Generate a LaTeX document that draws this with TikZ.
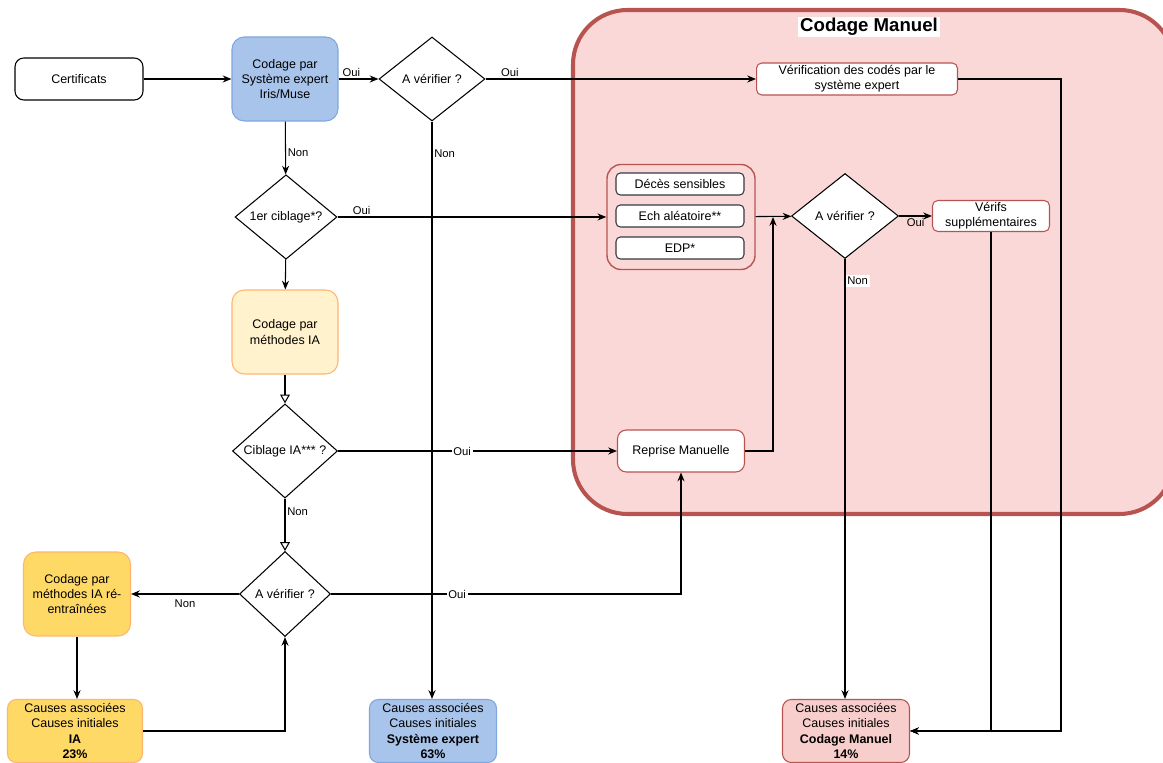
\documentclass[tikz,border=0pt]{standalone}
\usepackage{fontspec}
\setmainfont{Liberation Sans}
\usepackage{tikz}
\usetikzlibrary{shapes.geometric}
\usetikzlibrary{arrows.meta}
\definecolor{sebleu}{HTML}{A9C4EB}
\definecolor{sebord}{HTML}{7EA6E0}
\definecolor{iaclair}{HTML}{FFF2CC}
\definecolor{iafonce}{HTML}{FFD966}
\definecolor{iabord}{HTML}{FFB570}
\definecolor{cmrose}{HTML}{F8CECC}
\definecolor{cmfond}{HTML}{FBD8D8}
\definecolor{cmbord}{HTML}{B85450}
\definecolor{gris}{HTML}{36393D}
\tikzset{txt/.style={font=\fontsize{7.1}{8.6}\selectfont,align=center,inner sep=1pt},
  boite/.style={txt,rectangle,rounded corners=5pt,draw=black,fill=white,line width=0.6pt},
  losange/.style={txt,diamond,draw=black,fill=white,line width=0.6pt,inner sep=0pt},
  lbl/.style={font=\fontsize{6.4}{7}\selectfont,inner sep=1pt},
  fl/.style={-{Stealth[length=5pt,width=4pt]},line width=0.6pt},
  flo/.style={-{Triangle[open,length=5pt,width=5.5pt]},line width=0.6pt}}

\begin{document}
\begin{tikzpicture}[x=0.02cm,y=-0.02cm]
      \clip (0,0) rectangle (1163,763);
      \fill[white] (0,0) rectangle (1163,763);

      % cadre codage manuel
      \draw[line width=2.3pt,draw=cmbord,fill=cmfond,rounded corners=31pt] (573,10) rectangle (1174,514);
      \node[font=\fontsize{10.6}{12}\selectfont\bfseries,fill=white,inner sep=1pt] (titre) at (869,27) {Codage Manuel};

      \node[boite,minimum width=2.56cm,minimum height=0.84cm] (cert) at (79,79) {Certificats};
      \node[boite,fill=sebleu,draw=sebord,rounded corners=7pt,minimum width=2.12cm,minimum height=1.68cm] (se) at (285,79) {Codage par\\Système expert\\Iris/Muse};
      \node[losange,minimum width=2.12cm,minimum height=1.68cm] (av1) at (432,79) {A vérifier ?};
      \node[boite,draw=cmbord,minimum width=4.02cm,minimum height=0.64cm,rounded corners=3pt] (verif) at (857,79) {Vérification des codés par le\\système expert};

      \node[losange,minimum width=2.04cm,minimum height=1.66cm] (cib1) at (286,217) {1er ciblage*?};
      \node[rectangle,rounded corners=8pt,draw=cmbord,line width=0.8pt,minimum width=2.96cm,minimum height=2.1cm] (grp) at (681,217) {};
      \node[boite,draw=gris,rounded corners=2.5pt,minimum width=2.56cm,minimum height=0.44cm] (deces) at (680,184) {Décès sensibles};
      \node[boite,draw=gris,rounded corners=2.5pt,minimum width=2.56cm,minimum height=0.44cm] (ech) at (680,216) {Ech aléatoire**};
      \node[boite,draw=gris,rounded corners=2.5pt,minimum width=2.56cm,minimum height=0.44cm] (edp) at (680,248) {EDP*};
      \node[losange,minimum width=2.14cm,minimum height=1.7cm] (av2) at (845,216) {A vérifier ?};
      \node[boite,draw=cmbord,rounded corners=3pt,minimum width=2.34cm,minimum height=0.62cm] (vsup) at (991,216) {Vérifs\\supplémentaires};

      \node[boite,fill=iaclair,draw=iabord,rounded corners=7pt,minimum width=2.12cm,minimum height=1.68cm] (ia) at (285,332) {Codage par\\méthodes IA};
      \node[losange,minimum width=2.1cm,minimum height=1.88cm] (cibia) at (285,451) {Ciblage IA*** ?};
      \node[boite,draw=cmbord,minimum width=2.54cm,minimum height=0.84cm] (rm) at (681,451) {Reprise Manuelle};

      \node[losange,minimum width=1.82cm,minimum height=1.7cm] (av3) at (285,594) {A vérifier ?};
      \node[boite,fill=iafonce,draw=iabord,rounded corners=7pt,minimum width=2.14cm,minimum height=1.68cm] (iar) at (77,594) {Codage par\\méthodes IA ré-\\entraînées};

      \node[boite,fill=iafonce,draw=iabord,minimum width=2.7cm,minimum height=1.26cm] (resia) at (75,731) {Causes associées\\Causes initiales\\\textbf{IA}\\\textbf{23\%}};
      \node[boite,fill=sebleu,draw=sebord,minimum width=2.54cm,minimum height=1.26cm] (resse) at (433,731) {Causes associées\\Causes initiales\\\textbf{Système expert}\\\textbf{63\%}};
      \node[boite,fill=cmrose,draw=cmbord,minimum width=2.54cm,minimum height=1.26cm] (rescm) at (846,731) {Causes associées\\Causes initiales\\\textbf{Codage Manuel}\\\textbf{14\%}};

      \coordinate (jonc) at (773,217);
      \coordinate (angle) at (1061,731);

      \draw[fl] (cert) -- (se);
      \draw[fl] (se) -- node[lbl,pos=0.32,above] {Oui} (av1);
      \draw[fl] (av1) -- node[lbl,pos=0.09,above] {Oui} (verif);
      \draw[fl] (verif.east) -| (angle) -- (rescm.east);
      \draw[fl] (vsup.south) |- (rescm.east);
      \draw[fl] (av1.south) -- node[lbl,pos=0.055,right] {Non} (av1.south |- resse.north);
      \draw[fl] (se) -- node[lbl,pos=0.58,right] {Non} (cib1);
      \draw[fl] (cib1) -- node[lbl,pos=0.09,above] {Oui} (grp);
      \draw[fl] (grp) -- (av2);
      \draw[fl] (rm.east) -| (jonc);
      \draw[fl] (av2) -- node[lbl,pos=0.5,below] {Oui} (vsup);
      \draw[fl] (av2.south) -- node[lbl,pos=0.05,right,fill=white] {Non} (av2.south |- rescm.north);
      \draw[fl] (cib1) -- (ia);
      \draw[flo] (ia) -- (cibia);
      \draw[fl] (cibia) -- node[lbl,pos=0.445,fill=white] {Oui} (rm);
      \draw[flo] (cibia) -- node[lbl,pos=0.25,right] {Non} (av3);
      \draw[fl] (av3) -- node[lbl,pos=0.5,below=2pt] {Non} (iar);
      \draw[fl] (av3.east) -| node[lbl,pos=0.18,fill=white] {Oui} (rm.south);
      \draw[fl] (iar) -- (iar.south |- resia.north);
      \draw[fl] (resia.east) -| (av3.south);
  \end{tikzpicture}
\end{document}
